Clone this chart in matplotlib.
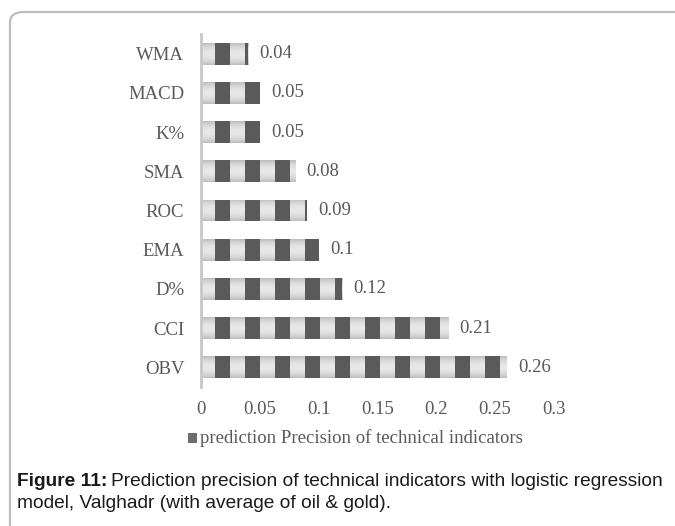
import numpy as np
import matplotlib
matplotlib.use("Agg")
import matplotlib.pyplot as plt
from matplotlib.patches import Rectangle, FancyBboxPatch

# Data
indicators = ["OBV", "CCI", "D%", "EMA", "ROC", "SMA", "K%", "MACD", "WMA"]
precision = [0.26, 0.21, 0.12, 0.1, 0.09, 0.08, 0.05, 0.05, 0.04]
value_labels = ["0.26", "0.21", "0.12", "0.1", "0.09", "0.08", "0.05", "0.05", "0.04"]
xticks = [0, 0.05, 0.1, 0.15, 0.2, 0.25, 0.3]
xtick_labels = ["0", "0.05", "0.1", "0.15", "0.2", "0.25", "0.3"]
legend_label = "prediction Precision of technical indicators"

W, H, DPI = 675, 526, 100
fig = plt.figure(figsize=(W / DPI, H / DPI), dpi=DPI)
fig.patch.set_facecolor("white")

# Rounded frame around the figure panel
frame = FancyBboxPatch((10 / W, -0.2), 1.2, 1.2 - 12 / H,
                       boxstyle="round,pad=0,rounding_size=0.02",
                       transform=fig.transFigure, fill=False,
                       edgecolor="#bdbdbd", linewidth=1.6, clip_on=False)
fig.patches.append(frame)

ax = fig.add_axes([201 / W, 1 - 387 / H, (554 - 201) / W, (387 - 34) / H])
for s in ["top", "right", "bottom"]:
    ax.spines[s].set_visible(False)
ax.spines["left"].set_color("#c8c8c8")
ax.spines["left"].set_linewidth(2.0)

txt = "#595959"
serif = ["Liberation Serif", "DejaVu Serif"]
fs = 13.5
ypos = np.arange(len(indicators))
ax.set_yticks(ypos)
ax.set_yticklabels(indicators, fontsize=fs, color=txt, family=serif)
ax.set_xticks(xticks)
ax.set_xticklabels(xtick_labels, fontsize=fs, color=txt, family=serif)
ax.tick_params(axis="y", length=0, pad=12)
ax.tick_params(axis="x", length=0, pad=10)

bar_h = 0.56
dark = "#5a5a5a"
# vertical shading for the light part of each bar
grad = np.linspace(0, 1, 64)
shade = 1 - 0.9 * (2 * grad - 1) ** 2
light_lo, light_hi = 0.72, 0.91
col = light_lo + (light_hi - light_lo) * shade
img = np.dstack([col, col, col]).reshape(64, 1, 3)

# stripe pattern geometry (data units)
px = 0.3 / (554 - 201)
period = 30 * px
dark_start = 14 * px
dark_w = 15 * px

bars = ax.barh(ypos, precision, height=bar_h, color="none", edgecolor="none")
for rect, v in zip(bars, precision):
    y0 = rect.get_y()
    im = ax.imshow(img, extent=(0, v, y0, y0 + bar_h), aspect="auto",
                   interpolation="bilinear", zorder=2)
    im.set_clip_path(rect)
    x = dark_start
    while x < v:
        ax.add_patch(Rectangle((x, y0), min(dark_w, v - x), bar_h,
                               facecolor=dark, edgecolor="none", zorder=3))
        x += period

ax.set_xlim(0, 0.3)
ax.set_ylim(-0.5, len(indicators) - 0.5)

for y, v, lab in zip(ypos, precision, value_labels):
    ax.annotate(lab, (v, y), xytext=(8, 0), textcoords="offset points",
                va="center", ha="left", fontsize=fs, color=txt, family=serif)

# Legend
fig.patches.append(Rectangle((188 / W, 1 - 443 / H), 9 / W, 10 / H,
                             transform=fig.transFigure, facecolor="#6e6e6e",
                             edgecolor="none"))
fig.text(200 / W, 1 - 438 / H, legend_label, fontsize=fs, color=txt,
         family=serif, va="center", ha="left")

# Caption
sans = ["Liberation Sans", "DejaVu Sans"]
cfs = 13.75
cap = "#1a1a1a"
t1 = fig.text(17 / W, 1 - 481 / H, "Figure 11:", fontsize=cfs, fontweight="bold",
              family=sans, va="center", ha="left", color=cap)
fig.canvas.draw()
bb = t1.get_window_extent()
fig.text((bb.x1 + 4) / W, 1 - 481 / H,
         "Prediction precision of technical indicators with logistic regression",
         fontsize=cfs, family=sans, va="center", ha="left", color=cap)
fig.text(17 / W, 1 - 503 / H, "model, Valghadr (with average of oil & gold).",
         fontsize=cfs, family=sans, va="center", ha="left", color=cap)

fig.savefig("out.png", dpi=DPI)
